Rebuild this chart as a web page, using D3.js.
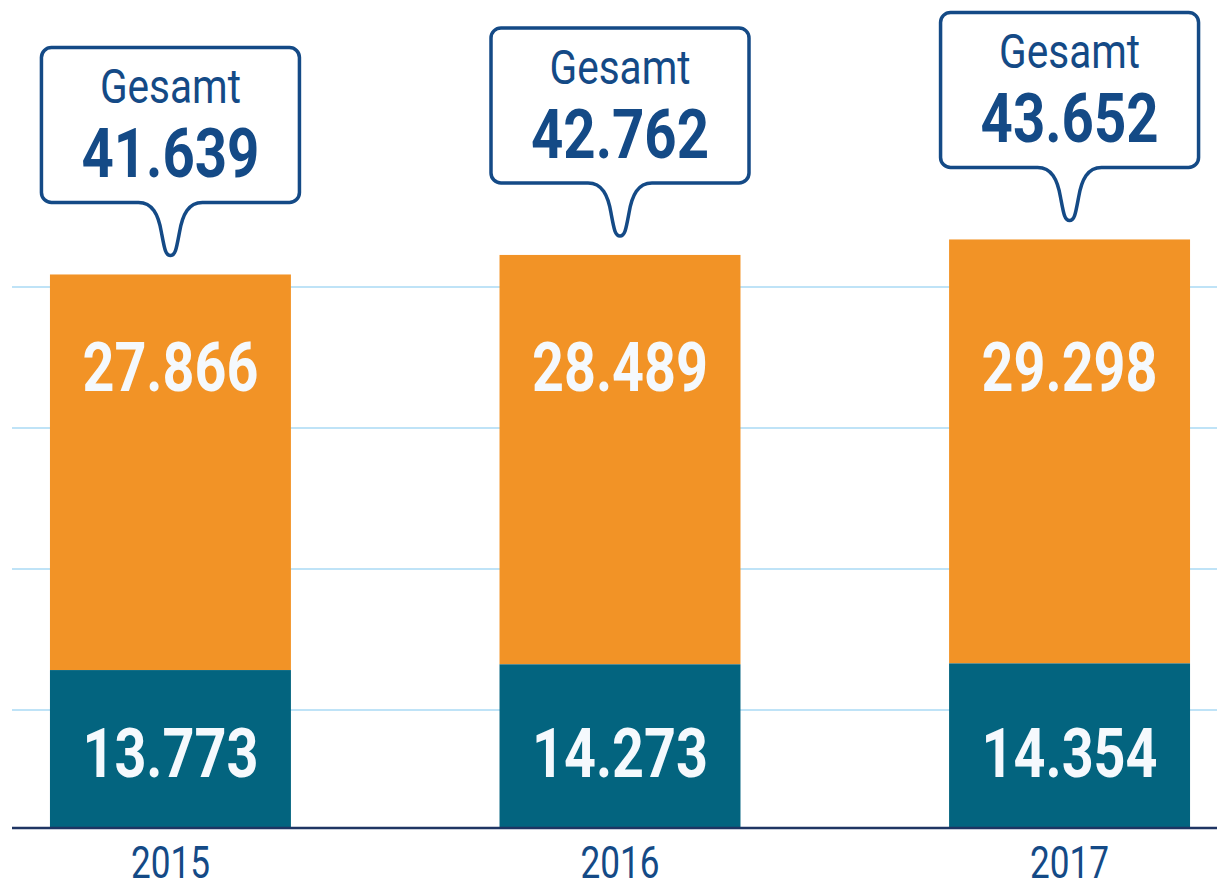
<!DOCTYPE html>
<html>
<head>
<meta charset="utf-8">
<script src="https://cdn.jsdelivr.net/npm/d3@7"></script>
<style>
  body { margin: 0; background: #fff; }
  svg text { font-family: Roboto, "Noto Sans", sans-serif; }
</style>
</head>
<body>
<div id="chart-container"></div>
<script>
// values
const years = ["2015", "2016", "2017"];
const lowerValues = [13773, 14273, 14354];
const upperValues = [27866, 28489, 29298];
const totalValues = [41639, 42762, 43652];
const gridLevels = [1, 2, 3, 4];

const width = 1217;
const height = 888;
const baseline = 828;

const navy = "#144a86";
const orange = "#f29326";
const teal = "#03647f";
const labelWhite = "#f5f9fd";

const data = years.map((year, i) => ({
  year: year,
  lower: lowerValues[i],
  upper: upperValues[i],
  total: totalValues[i]
}));

const x = d3.scaleBand()
    .domain(years)
    .range([5, 1235])
    .paddingInner(0.464)
    .paddingOuter(0.1);

// the original has a broken value axis, so the scale is piecewise
const y = d3.scaleLinear()
    .domain([0, 15000, 40000, 45000])
    .range([baseline, 656, 303, 216]);

const gridY = d3.scaleLinear()
    .domain([0, 4])
    .range([851, 287]);

const svg = d3.select("#chart-container").append("svg")
    .attr("width", width)
    .attr("height", height)
    .attr("viewBox", [0, 0, width, height]);

// light gridlines
svg.append("g")
  .selectAll("line")
  .data(gridLevels)
  .join("line")
    .attr("x1", 12)
    .attr("x2", width)
    .attr("y1", d => gridY(d))
    .attr("y2", d => gridY(d))
    .attr("stroke", "#bfe3f7")
    .attr("stroke-width", 2);

const bars = svg.append("g")
  .selectAll("g")
  .data(data)
  .join("g");

bars.append("rect")
    .attr("x", d => x(d.year))
    .attr("width", x.bandwidth())
    .attr("y", d => y(d.total))
    .attr("height", d => y(d.lower) - y(d.total))
    .attr("fill", orange);

bars.append("rect")
    .attr("x", d => x(d.year))
    .attr("width", x.bandwidth())
    .attr("y", d => y(d.lower))
    .attr("height", d => y(0) - y(d.lower))
    .attr("fill", teal);

const fmt = v => d3.format(",")(v).replace(/,/g, ".");

// condensed look: squeeze Roboto to the widths of the original
function squeeze(sel, len) {
  sel.attr("textLength", len).attr("lengthAdjust", "spacingAndGlyphs");
}

bars.append("text")
    .attr("x", d => x(d.year) + x.bandwidth() / 2)
    .attr("y", 391)
    .attr("text-anchor", "middle")
    .attr("font-size", 68)
    .attr("font-weight", "bold")
    .attr("fill", labelWhite)
    .text(d => fmt(d.upper))
    .call(squeeze, 176);

bars.append("text")
    .attr("x", d => x(d.year) + x.bandwidth() / 2)
    .attr("y", 777)
    .attr("text-anchor", "middle")
    .attr("font-size", 68)
    .attr("font-weight", "bold")
    .attr("fill", labelWhite)
    .text(d => fmt(d.lower))
    .call(squeeze, 176);

// baseline
svg.append("line")
    .attr("x1", 12)
    .attr("x2", width)
    .attr("y1", y(0))
    .attr("y2", y(0))
    .attr("stroke", "#1f3563")
    .attr("stroke-width", 2.5);

// year labels
svg.append("g")
  .selectAll("text")
  .data(years)
  .join("text")
    .attr("x", d => x(d) + x.bandwidth() / 2)
    .attr("y", 878)
    .attr("text-anchor", "middle")
    .attr("font-size", 44)
    .attr("fill", navy)
    .text(d => d)
    .call(squeeze, 79);

// speech bubbles with the totals
const boxW = 258, boxH = 155, r = 10, tail = 53;

function bubble(cx, bottom) {
  const p = d3.path();
  const left = cx - boxW / 2, right = cx + boxW / 2, top = bottom - boxH;
  p.moveTo(cx - 32, bottom);
  p.lineTo(left + r, bottom);
  p.arcTo(left, bottom, left, bottom - r, r);
  p.lineTo(left, top + r);
  p.arcTo(left, top, left + r, top, r);
  p.lineTo(right - r, top);
  p.arcTo(right, top, right, top + r, r);
  p.lineTo(right, bottom - r);
  p.arcTo(right, bottom, right - r, bottom, r);
  p.lineTo(cx + 32, bottom);
  p.bezierCurveTo(cx + 18, bottom, cx + 12, bottom + 12, cx + 9, bottom + 30);
  p.bezierCurveTo(cx + 6, bottom + 46, cx + 5, bottom + tail, cx, bottom + tail);
  p.bezierCurveTo(cx - 5, bottom + tail, cx - 6, bottom + 46, cx - 9, bottom + 30);
  p.bezierCurveTo(cx - 12, bottom + 12, cx - 18, bottom, cx - 32, bottom);
  p.closePath();
  return p.toString();
}

const callouts = svg.append("g")
  .selectAll("g")
  .data(data)
  .join("g")
    .attr("transform", d => `translate(${x(d.year) + x.bandwidth() / 2},${y(d.total) - 72})`);

callouts.append("path")
    .attr("d", bubble(0, 0))
    .attr("fill", "#fff")
    .attr("stroke", navy)
    .attr("stroke-width", 3.5)
    .attr("stroke-linejoin", "round");

callouts.append("text")
    .attr("y", -boxH + 56)
    .attr("text-anchor", "middle")
    .attr("font-size", 49)
    .attr("fill", navy)
    .text("Gesamt")
    .call(squeeze, 141);

callouts.append("text")
    .attr("y", -boxH + 130)
    .attr("text-anchor", "middle")
    .attr("font-size", 68)
    .attr("font-weight", "bold")
    .attr("fill", navy)
    .text(d => fmt(d.total))
    .call(squeeze, 178);
</script>
</body>
</html>
